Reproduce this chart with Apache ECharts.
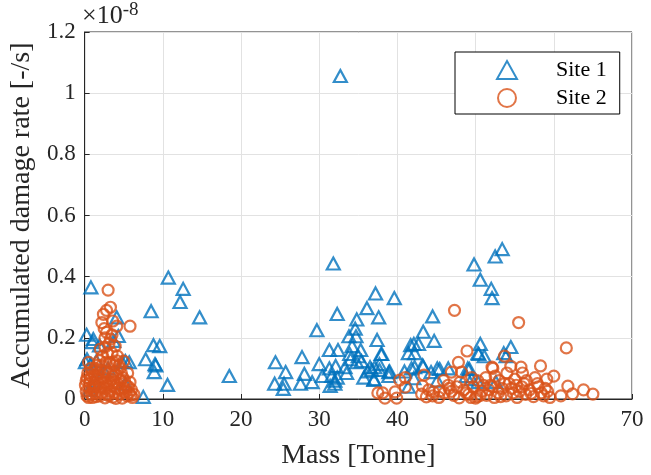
<!DOCTYPE html>
<html>
<head>
<meta charset="utf-8">
<script src="https://cdn.jsdelivr.net/npm/echarts@6/dist/echarts.min.js"></script>
<style>html,body{margin:0;padding:0;background:#fff}#c{width:651px;height:475px}</style>
</head>
<body>
<div id="c"></div>
<script>
// values in units of 1e-8 [-/s]
const site1 = [
[0.8,0.365],[0.25,0.21],[1.0,0.186],[1.1,0.196],[0.3,0.13],[0.1,0.12],[1.5,0.124],[0.8,0.114],[1.9,0.175],[4.1,0.267],[4.3,0.206],[3.7,0.19],
[5.7,0.12],[5.2,0.124],[4.8,0.12],[7.8,0.13],[8.5,0.287],[8.8,0.176],[9.6,0.173],[9.0,0.114],[8.9,0.088],[9.1,0.11],[7.5,0.007],[10.6,0.046],
[10.7,0.397],[12.6,0.36],[12.2,0.317],[14.7,0.267],[18.5,0.075],[2.5,0.09],[1.2,0.06],[3.0,0.1],[0.6,0.03],[5.2,0.05],
[31.8,0.443],[37.2,0.345],[39.6,0.33],[32.3,0.278],[36.1,0.297],[37.6,0.267],[34.8,0.26],[29.7,0.225],[34.6,0.23],[33.8,0.205],[34.7,0.205],
[37.4,0.193],[34.2,0.173],[31.3,0.16],[32.4,0.16],[33.9,0.147],[35.0,0.14],[37.9,0.147],[41.7,0.176],[41.4,0.15],[24.4,0.12],[27.8,0.137],
[30.0,0.114],[25.7,0.088],[28.1,0.082],[31.3,0.1],[32.1,0.108],[33.3,0.104],[34.8,0.12],[35.4,0.124],[36.5,0.104],[37.1,0.104],[37.7,0.114],
[39.0,0.09],[30.4,0.075],[31.6,0.075],[32.3,0.07],[35.7,0.07],[37.0,0.065],[38.9,0.075],[24.3,0.05],[25.5,0.05],[25.4,0.033],[27.6,0.05],
[29.1,0.055],[31.4,0.043],[32.0,0.05],[32.0,0.06],[32.7,1.056],[34.0,0.13],[35.3,0.16],[33.5,0.085],[36.2,0.09],
[38.0,0.147],[36.7,0.095],[37.7,0.095],[38.9,0.088],[37.0,0.062],[42.2,0.104],[43.3,0.107],[44.3,0.088],[42.1,0.068],[45.1,0.06],
[53.4,0.49],[52.5,0.466],[49.8,0.44],[50.6,0.39],[52.0,0.36],[52.1,0.33],[44.5,0.27],[43.3,0.22],[42.1,0.18],[42.7,0.18],[42.2,0.15],
[44.7,0.19],[50.6,0.18],[50.3,0.15],[51.1,0.14],[53.6,0.15],[54.5,0.17],[41.8,0.10],[43.2,0.11],[45.1,0.10],[46.5,0.10],[40.9,0.09],
[49.0,0.10],[48.8,0.075],[49.5,0.065],[50.3,0.055],[41.4,0.04],[52.6,0.055],[53.9,0.14],[45.4,0.098],[49.2,0.098],[50.4,0.147]
];
const site2 = [
[3.0,0.356],[3.3,0.30],[2.4,0.277],[2.8,0.29],[4.1,0.238],[5.8,0.238],[2.8,0.218],[3.3,0.196],[3.9,0.173],[2.0,0.163],[5.0,0.124],[0.5,0.12],
[2.2,0.25],[3.6,0.255],[2.6,0.2],[3.1,0.18],[2.3,0.14],[3.5,0.15],[4.2,0.14],[1.6,0.11],[2.7,0.12],[3.8,0.11],[4.5,0.1],[1.0,0.09],[2.0,0.095],
[3.0,0.085],[4.0,0.08],[5.5,0.085],[0.3,0.07],[1.3,0.075],[2.4,0.07],[3.4,0.065],[4.6,0.06],[5.8,0.055],[0.6,0.05],[1.8,0.05],[2.9,0.045],
[3.9,0.04],[5.0,0.035],[6.0,0.03],[0.2,0.025],[1.1,0.03],[2.2,0.02],[3.3,0.025],[4.4,0.015],[5.4,0.01],[0.5,0.005],[1.5,0.008],[2.6,0.004],
[3.6,0.006],[4.8,0.003],[5.9,0.012],[0.9,0.015],[1.9,0.035],[2.7,0.055],[4.2,0.05],[0.1,0.045],[0.8,0.1],[1.4,0.04],[3.1,0.01],[4.9,0.07],
[5.3,0.045],[2.1,0.065],[3.7,0.09],[1.7,0.085],[0.4,0.085],[6.3,0.015],[5.7,0.02],
[0.2,0.06],[0.7,0.065],[1.2,0.05],[1.6,0.065],[2.5,0.035],[3.5,0.045],[4.3,0.035],[4.7,0.085],[5.1,0.06],[0.3,0.01],[1.0,0.005],[2.0,0.01],
[2.9,0.015],[3.9,0.02],[4.6,0.03],[5.2,0.022],[0.6,0.035],[1.4,0.02],[2.4,0.05],[3.2,0.055],[3.6,0.075],[2.6,0.09],[1.3,0.1],[2.2,0.11],
[3.2,0.12],[4.1,0.125],[2.9,0.15],[2.6,0.17],[3.5,0.21],[2.5,0.23],[3.7,0.12],[4.4,0.11],[1.9,0.125],[0.9,0.075],[4.0,0.002],[5.6,0.04],
[6.1,0.005],[3.8,0.055],[2.0,0.04],[1.1,0.045],
[47.3,0.29],[55.5,0.25],[48.9,0.157],[47.8,0.12],[53.7,0.14],[52.1,0.104],[54.5,0.107],[46.9,0.088],[48.2,0.088],[43.4,0.078],[41.0,0.07],
[45.9,0.06],[51.3,0.07],[50.3,0.059],[43.2,0.043],[41.0,0.039],[61.6,0.167],[55.8,0.104],[58.3,0.108],[52.2,0.1],[60.0,0.075],[59.1,0.065],
[61.8,0.042],[63.8,0.03],[65.0,0.016],[62.4,0.017],[60.9,0.01],
[40.3,0.062],[38.1,0.02],[38.4,0.003],[39.7,0.023],[39.9,0.003],[43.1,0.016],[44.6,0.023],[45.4,0.026],[43.7,0.007],[37.5,0.02],
[44.5,0.01],[45.3,0.005],[46.0,0.02],[46.6,0.035],[47.2,0.012],[47.9,0.004],[48.5,0.03],[49.1,0.015],[49.7,0.04],[50.2,0.008],[50.8,0.025],
[51.4,0.012],[51.9,0.045],[52.4,0.005],[52.9,0.02],[53.4,0.035],[53.9,0.01],[54.3,0.05],[54.8,0.02],[55.3,0.005],[55.9,0.04],[56.4,0.015],
[56.9,0.03],[57.4,0.008],[57.9,0.05],[58.4,0.02],[58.9,0.035],[59.5,0.005],[50.0,0.003],[51.0,0.045],[53.0,0.06],[55.0,0.065],[56.5,0.06],
[57.6,0.07],[46.5,0.045],[48.0,0.055],[52.5,0.075],[54.0,0.085],[44.0,0.03],[49.5,0.07],[56.0,0.085],[58.0,0.04],
[48.8,0.02],[51.7,0.03],[53.2,0.008],[54.6,0.035],[55.6,0.025],[57.1,0.018],[58.7,0.01],[50.6,0.012],[52.2,0.04],[49.4,0.005],[46.9,0.025],
[56.2,0.05],[59.2,0.025],[47.6,0.04],[53.7,0.05],[55.2,0.045]
];
const seriesNames = ['Site 1','Site 2'];
const xTitle = 'Mass [Tonne]';
const yTitle = 'Accumulated damage rate [-/s]';
const xTicks = {min:0,max:70,interval:10};
const yTicks = {min:0,max:1.2,interval:0.2};

const font = 'Liberation Serif, Times New Roman, serif';
const ax = '#262626';
const chart = echarts.init(document.getElementById('c'), null, {renderer:'canvas'});
chart.setOption({
  backgroundColor:'#fff',
  animation:false,
  grid:{left:81,right:19,top:32,bottom:75,show:true,borderColor:ax,borderWidth:1},
  xAxis:{type:'value',min:xTicks.min,max:xTicks.max,interval:xTicks.interval,
    name:xTitle,nameLocation:'middle',nameGap:43,
    nameTextStyle:{fontFamily:font,fontSize:28,color:ax},
    axisLine:{lineStyle:{color:ax,width:1}},
    axisTick:{inside:true,length:5,lineStyle:{color:ax}},
    axisLabel:{fontFamily:font,fontSize:23,color:ax,margin:9},
    splitLine:{lineStyle:{color:'#e2e2e2',width:1}}},
  yAxis:{type:'value',min:yTicks.min,max:yTicks.max,interval:yTicks.interval,
    name:yTitle,nameLocation:'middle',nameGap:47,
    nameTextStyle:{fontFamily:font,fontSize:28,color:ax},
    axisLine:{show:true,lineStyle:{color:ax,width:1}},
    axisTick:{show:true,inside:true,length:5,lineStyle:{color:ax}},
    axisLabel:{fontFamily:font,fontSize:23,color:ax,margin:9},
    splitLine:{lineStyle:{color:'#e2e2e2',width:1}}},
  legend:{orient:'vertical',left:455,top:52,
    backgroundColor:'#fff',borderColor:'#000',borderWidth:1,
    padding:[7,13,5,41],itemGap:6,itemWidth:20,itemHeight:18,
    textStyle:{fontFamily:font,fontSize:22,color:'#000',lineHeight:20,padding:[0,0,0,34]},
    data:seriesNames},
  graphic:[{type:'text',left:82,top:1,
    style:{text:'{a|×10}{b|-8}',rich:{a:{fontFamily:font,fontSize:26,fill:ax},b:{fontFamily:font,fontSize:19,fill:ax,verticalAlign:'top',padding:[0,0,12,0]}}}}],
  series:[
    {name:seriesNames[0],type:'scatter',data:site1,symbol:'triangle',symbolSize:[13,12],
     itemStyle:{color:'rgba(0,0,0,0)',borderColor:'#0072BD',borderWidth:2.2}},
    {name:seriesNames[1],type:'scatter',data:site2,symbol:'circle',symbolSize:11,
     itemStyle:{color:'rgba(0,0,0,0)',borderColor:'#D95319',borderWidth:2.2}}
  ]
});
</script>
</body>
</html>
